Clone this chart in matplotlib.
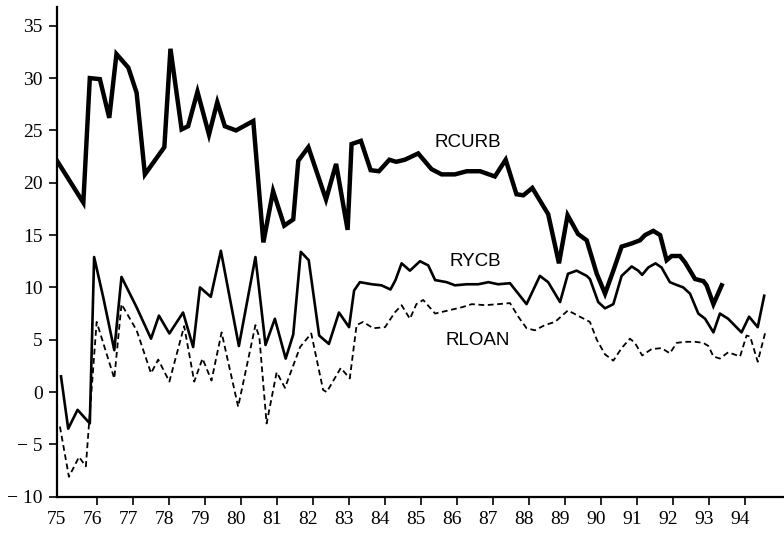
import matplotlib
matplotlib.use("Agg")
import matplotlib.pyplot as plt
from matplotlib.transforms import ScaledTranslation

# Real growth rates (%), plotted against fractional year
rcurb_t = [74.88, 75.61, 75.79, 76.07, 76.33, 76.53, 76.86, 77.09, 77.32, 77.86,
           78.03, 78.34, 78.52, 78.78, 79.10, 79.33, 79.54, 79.85, 80.33, 80.61,
           80.88, 81.19, 81.44, 81.58, 81.86, 82.35, 82.63, 82.95, 83.06, 83.32,
           83.59, 83.82, 84.11, 84.30, 84.54, 84.91, 85.28, 85.56, 85.93, 86.26,
           86.63, 87.04, 87.34, 87.64, 87.83, 88.08, 88.52, 88.82, 89.06, 89.35,
           89.59, 89.87, 90.10, 90.33, 90.56, 90.84, 91.07, 91.21, 91.44, 91.63,
           91.81, 91.95, 92.18, 92.32, 92.60, 92.83, 92.92, 93.11, 93.34]
rcurb = [22.1, 18.1, 30.0, 29.9, 26.2, 32.3, 31.0, 28.6, 20.8, 23.4,
         32.8, 25.1, 25.4, 28.7, 24.6, 27.7, 25.4, 25.0, 25.9, 14.3,
         19.2, 15.9, 16.5, 22.1, 23.4, 18.4, 21.8, 15.5, 23.7, 24.0,
         21.2, 21.1, 22.2, 22.0, 22.2, 22.8, 21.3, 20.8, 20.8, 21.1,
         21.1, 20.6, 22.2, 18.9, 18.8, 19.5, 17.0, 12.3, 16.9, 15.1,
         14.5, 11.3, 9.4, 11.6, 13.9, 14.2, 14.5, 15.0, 15.4, 15.0,
         12.6, 13.0, 13.0, 12.4, 10.8, 10.6, 10.2, 8.4, 10.2]

rycb_t = [74.99, 75.19, 75.45, 75.79, 75.91, 76.16, 76.47, 76.67, 77.09, 77.49,
          77.71, 78.00, 78.38, 78.66, 78.85, 79.15, 79.43, 79.93, 80.39, 80.67,
          80.93, 81.23, 81.44, 81.65, 81.87, 82.16, 82.43, 82.71, 82.99, 83.13,
          83.29, 83.62, 83.89, 84.14, 84.28, 84.45, 84.68, 84.96, 85.19, 85.38,
          85.70, 85.93, 86.26, 86.58, 86.86, 87.13, 87.46, 87.92, 88.29, 88.52,
          88.85, 89.07, 89.31, 89.59, 89.68, 89.91, 90.10, 90.33, 90.56, 90.84,
          91.02, 91.13, 91.30, 91.50, 91.67, 91.90, 92.04, 92.27, 92.46, 92.69,
          92.88, 93.11, 93.29, 93.52, 93.89, 94.10, 94.34, 94.52]
rycb = [1.5, -3.5, -1.7, -3.0, 12.9, 9.1, 4.0, 11.0, 8.1, 5.1,
        7.3, 5.6, 7.6, 4.3, 10.0, 9.1, 13.5, 4.4, 12.9, 4.5,
        7.0, 3.2, 5.5, 13.4, 12.6, 5.4, 4.6, 7.6, 6.2, 9.7,
        10.5, 10.3, 10.2, 9.8, 10.7, 12.3, 11.6, 12.5, 12.1, 10.7,
        10.5, 10.2, 10.3, 10.3, 10.5, 10.3, 10.4, 8.4, 11.1, 10.5,
        8.6, 11.3, 11.6, 11.1, 10.8, 8.6, 8.0, 8.4, 11.1, 12.0,
        11.6, 11.2, 11.9, 12.3, 11.9, 10.5, 10.3, 10.0, 9.4, 7.5,
        7.0, 5.7, 7.5, 7.0, 5.7, 7.2, 6.2, 9.2]

rloan_t = [74.96, 75.21, 75.49, 75.68, 75.98, 76.47, 76.67, 77.09, 77.49, 77.69,
           78.00, 78.41, 78.69, 78.92, 79.17, 79.45, 79.91, 80.39, 80.50, 80.70,
           80.98, 81.21, 81.63, 81.94, 82.27, 82.37, 82.76, 83.01, 83.20, 83.38,
           83.66, 83.99, 84.26, 84.45, 84.68, 84.86, 85.05, 85.38, 85.75, 86.12,
           86.40, 86.77, 87.13, 87.46, 87.69, 87.92, 88.15, 88.43, 88.71, 89.07,
           89.40, 89.68, 89.87, 90.10, 90.33, 90.56, 90.79, 90.93, 91.13, 91.39,
           91.67, 91.90, 92.09, 92.32, 92.60, 92.83, 92.97, 93.11, 93.29, 93.52,
           93.85, 94.03, 94.13, 94.34, 94.55]
rloan = [-3.3, -8.1, -6.2, -7.1, 6.7, 1.3, 8.4, 5.9, 1.8, 3.1,
         1.0, 6.3, 1.0, 3.2, 1.1, 5.7, -1.4, 6.4, 5.2, -3.0,
         1.9, 0.4, 4.3, 5.6, 0.2, 0.0, 2.3, 1.3, 6.4, 6.7,
         6.1, 6.2, 7.6, 8.3, 7.0, 8.4, 8.8, 7.5, 7.8, 8.1,
         8.4, 8.3, 8.4, 8.5, 7.2, 6.1, 5.9, 6.4, 6.7, 7.8,
         7.2, 6.7, 5.0, 3.6, 3.0, 4.2, 5.1, 4.7, 3.5, 4.1,
         4.2, 3.7, 4.7, 4.8, 4.8, 4.7, 4.4, 3.4, 3.2, 3.8,
         3.4, 5.4, 5.3, 2.9, 5.7]

year_ticks = list(range(75, 95))
year_labels = [str(y) for y in year_ticks]
value_ticks = [35, 30, 25, 20, 15, 10, 5, 0, -5, -10]

fig = plt.figure(figsize=(7.84, 5.33), dpi=100)
ax = fig.add_axes([0.0723, 0.0681, 0.9277, 0.9189])

ax.plot(rcurb_t, rcurb, color="black", lw=3.2, solid_joinstyle="miter")
ax.plot(rycb_t, rycb, color="black", lw=1.9)
ax.plot(rloan_t, rloan, color="black", lw=1.3, linestyle=(0, (3.2, 2.0)))

sans = ["Liberation Sans", "DejaVu Sans"]
ax.text(86.29, 23.8, "RCURB", fontsize=13.5, family=sans, ha="center", va="center")
ax.text(86.49, 12.45, "RYCB", fontsize=13.5, family=sans, ha="center", va="center")
ax.text(86.57, 4.97, "RLOAN", fontsize=13.5, family=sans, ha="center", va="center")

ax.set_xlim(74.87, 95.07)
ax.set_ylim(-10, 36.8)

for side in ("top", "right"):
    ax.spines[side].set_visible(False)
for side in ("left", "bottom"):
    ax.spines[side].set_linewidth(1.6)
    ax.spines[side].set_color("black")

serif = ["Liberation Serif", "DejaVu Serif"]
ax.set_yticks(value_ticks)
ax.set_yticklabels([f"{v}".replace("-", "\u2212 ") for v in value_ticks],
                   family=serif, fontsize=14)
ax.set_xticks(year_ticks)
ax.set_xticklabels(year_labels, family=serif, fontsize=14)
ax.tick_params(axis="both", direction="out", length=6, width=1.2, color="black")
ax.tick_params(axis="y", pad=4)
ax.tick_params(axis="x", pad=4)

# first year tick coincides with the vertical axis
ax.xaxis.get_major_ticks()[0].tick1line.set_visible(False)

# year labels sit slightly left of their tick marks
shift = ScaledTranslation(-0.05, 0, fig.dpi_scale_trans)
for lbl in ax.get_xticklabels():
    lbl.set_transform(lbl.get_transform() + shift)

fig.savefig("out.png", dpi=100)
